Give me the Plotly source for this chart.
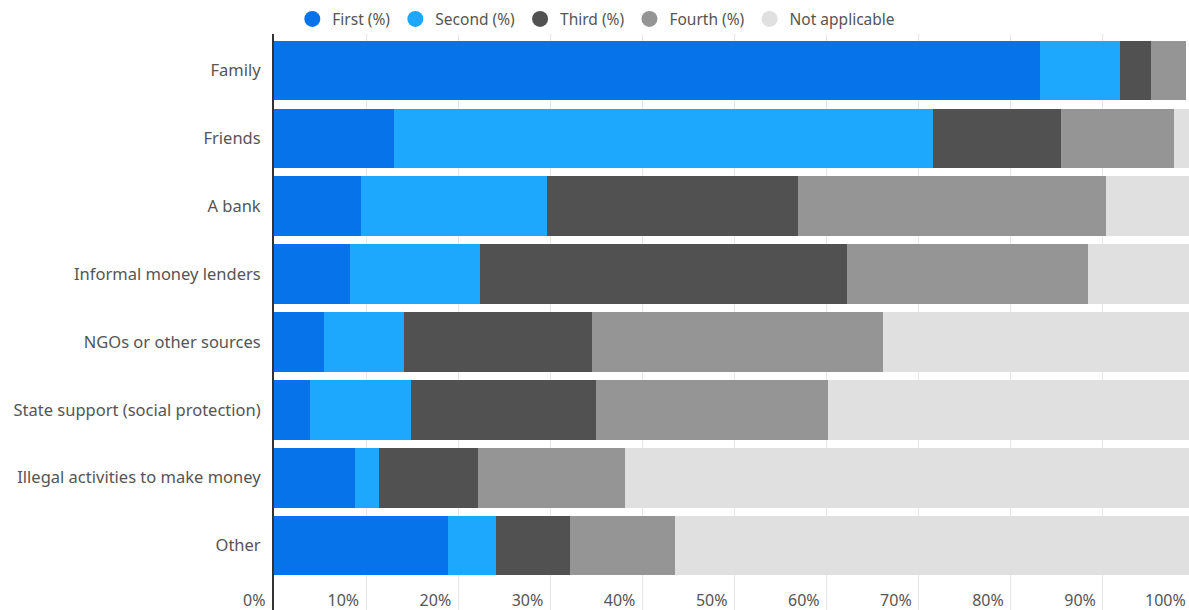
import plotly.graph_objects as go

# Sources of financial support, share of respondents ranking each source
categories = [
    "Family",
    "Friends",
    "A bank",
    "Informal money lenders",
    "NGOs or other sources",
    "State support (social protection)",
    "Illegal activities to make money",
    "Other",
]

series_names = ["First (%)", "Second (%)", "Third (%)", "Fourth (%)", "Not applicable"]

first = [83.2, 13.0, 9.4, 8.3, 5.4, 3.9, 8.8, 18.9]
second = [8.7, 58.5, 20.2, 14.1, 8.7, 11.0, 2.6, 5.2]
third = [3.3, 14.0, 27.3, 39.8, 20.4, 20.1, 10.7, 8.0]
fourth = [3.8, 12.2, 33.4, 26.2, 31.6, 25.2, 16.0, 11.4]
not_applicable = [0.0, 2.3, 9.7, 11.6, 33.9, 39.8, 61.9, 56.5]

tick_values = [0, 10, 20, 30, 40, 50, 60, 70, 80, 90]
tick_labels = ["0%", "10%", "20%", "30%", "40%", "50%", "60%", "70%", "80%", "90%"]
first_tick_label = "0%"
last_tick_value = 100
last_tick_label = "100%"

colors = ["#0673EB", "#1EA8FD", "#515151", "#959595", "#E0E0E0"]
font_family = "Noto Sans, Open Sans, sans-serif"
text_color = "#555555"
font_size = 16

x_max = 99.35  # right edge of the plotting area

fig = go.Figure()

for name, values, color in zip(
    series_names, [first, second, third, fourth, not_applicable], colors
):
    fig.add_trace(
        go.Bar(
            y=categories,
            x=values,
            name=name,
            orientation="h",
            marker=dict(color=color, line=dict(width=0)),
            showlegend=False,
            hovertemplate="%{y}: %{x}%<extra>" + name + "</extra>",
        )
    )
    # circular legend entries
    fig.add_trace(
        go.Scatter(
            x=[None],
            y=[None],
            mode="markers",
            name=name,
            marker=dict(color=color, size=20, symbol="circle"),
            showlegend=True,
            hoverinfo="skip",
        )
    )

fig.update_layout(
    width=1189,
    height=610,
    barmode="stack",
    bargap=0.12,
    paper_bgcolor="white",
    plot_bgcolor="white",
    margin=dict(l=274, r=0, t=34, b=0, pad=0),
    font=dict(family=font_family, size=font_size, color=text_color),
    showlegend=True,
    legend=dict(
        orientation="h",
        x=0.02,
        xanchor="left",
        y=0.996,
        yanchor="bottom",
        font=dict(family=font_family, size=15.5, color=text_color),
        itemsizing="trace",
        traceorder="normal",
        bgcolor="rgba(0,0,0,0)",
    ),
    xaxis=dict(
        range=[0, x_max],
        tickvals=tick_values,
        ticktext=tick_labels,
        ticklabelposition="inside left",
        ticklabelshift=-7,
        ticklabelstandoff=-5,
        showgrid=True,
        gridcolor="#E6E6E6",
        gridwidth=1,
        zeroline=False,
        showline=False,
        ticks="",
        tickfont=dict(family=font_family, size=font_size, color=text_color),
        fixedrange=True,
    ),
    yaxis=dict(
        type="category",
        categoryorder="array",
        categoryarray=categories,
        range=[7.95, -0.54],
        showgrid=False,
        zeroline=False,
        showline=True,
        linecolor="#333333",
        linewidth=2,
        ticks="",
        ticklabelstandoff=8,
        tickfont=dict(family=font_family, size=16.5, color=text_color),
        fixedrange=True,
    ),
)

# end labels of the percentage scale, placed just left of their positions
for xpos, label in [(0, first_tick_label), (last_tick_value / x_max, last_tick_label)]:
    fig.add_annotation(
        x=xpos,
        xref="paper",
        y=0,
        yref="paper",
        text=label,
        showarrow=False,
        xanchor="right",
        yanchor="bottom",
        xshift=-7,
        yshift=-3,
        font=dict(family=font_family, size=font_size, color=text_color),
    )

fig.write_html("out.html")
